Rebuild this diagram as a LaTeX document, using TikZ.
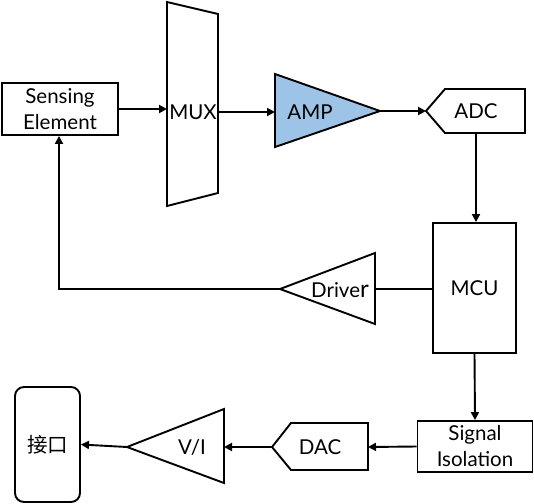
\documentclass[tikz,border=0pt]{standalone}
\usepackage{fontspec}
\setmainfont{Lato}
\newfontfamily\cjk{Noto Sans CJK SC}
\usetikzlibrary{arrows.meta,calc}
\definecolor{ampblue}{RGB}{157,195,230}
\tikzset{
  line/.style={line width=1.9pt},
  arr/.style={line width=1.9pt, -{Triangle[length=8pt,width=8pt]}},
  shp/.style={draw, line width=1.9pt, line join=miter},
  lbl/.style={font=\fontsize{20.5}{26}\selectfont, inner sep=0pt, align=center},
  box/.style={draw, line width=1.9pt, inner sep=0pt, lbl},
}
\begin{document}
\begin{tikzpicture}[x=1pt,y=-1pt]
\useasboundingbox (0,0) rectangle (534,503);

% rectangular boxes
\node[box, minimum width=116pt, minimum height=52pt] (se) at (60,109) {Sensing\\Element};
\node[box, minimum width=83pt, minimum height=130pt] (mcu) at (474.5,288) {MCU};
\node[box, minimum width=115pt, minimum height=51pt] (si) at (475,446.5) {Signal\\Isolation};
\node[box, rounded corners=9pt, minimum width=65pt, minimum height=115pt] (jk) at (47.5,444.5) {\cjk\fontsize{20.5}{26}\selectfont 接口};

% MUX trapezoid
\draw[shp] (167,2) -- (218,14) -- (218,193) -- (167,206) -- cycle;
\node[lbl] (mux) at (193,112) {MUX};
\coordinate (muxin) at (167,109);
\coordinate (muxout) at (218,112);

% AMP triangle
\draw[shp, fill=ampblue] (275,74) -- (380,111) -- (275,147) -- cycle;
\node[lbl] (amp) at (310,112) {AMP};
\coordinate (ampin) at (275,112);
\coordinate (ampout) at (380,111);

% ADC pentagon
\draw[shp] (426,111) -- (445,89) -- (525,89) -- (525,133) -- (445,133) -- cycle;
\node[lbl] (adc) at (476,111) {ADC};
\coordinate (adcin) at (426,111);
\coordinate (adcout) at (476,133);

% Driver triangle
\draw[shp] (375,253) -- (375,324) -- (280,289) -- cycle;
\node[lbl] (drv) at (340,290) {Drive{\fontsize{24}{26}\selectfont r}};
\coordinate (drvin) at (375,289);
\coordinate (drvout) at (280,289);
\coordinate (corner) at (59,289);

% DAC pentagon
\draw[shp] (272,447) -- (291,423) -- (368,423) -- (368,470) -- (291,470) -- cycle;
\node[lbl] (dac) at (320,447) {DAC};
\coordinate (dacin) at (368,447);
\coordinate (dacout) at (272,447);

% V/I triangle
\draw[shp] (224,409) -- (224,483) -- (127,447) -- cycle;
\node[lbl] (vi) at (192,447) {V/I};
\coordinate (viin) at (224,447);
\coordinate (viout) at (127,447);

% connectors
\draw[arr] (se.east) -- (muxin);
\draw[arr] (muxout) -- (ampin);
\draw[arr] (ampout) -- (adcin);
\draw[arr] (adcout) -- (mcu.north -| adcout);
\draw[line] (mcu.west |- drvin) -- (drvin);
\draw[arr] (drvout) -- (corner) -- (se.south -| corner);
\draw[arr] (mcu.south) -- (si.north);
\draw[arr] (si.west) -- (dacin);
\draw[arr] (dacout) -- (viin);
\draw[arr] (viout) -- (jk.east);
\end{tikzpicture}
\end{document}
